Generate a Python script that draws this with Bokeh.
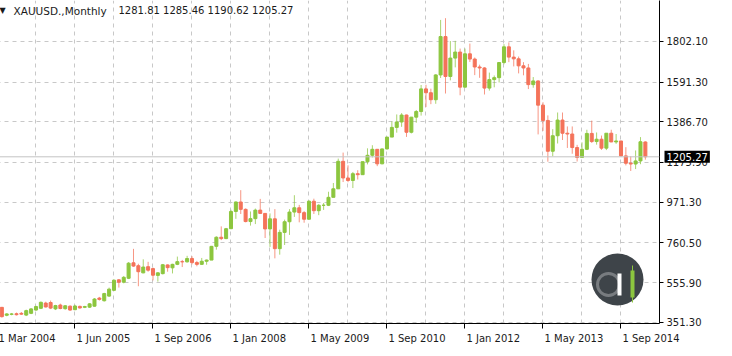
from bokeh.plotting import figure
from bokeh.models import (Range1d, FixedTicker, Label, Span, BoxAnnotation, Grid, LinearAxis,
                          ColumnDataSource, PrintfTickFormatter)
from bokeh.embed import file_html
from bokeh.resources import INLINE

# ---------------- data (monthly XAUUSD candles, bar index 0 = "1 Mar 2004") ----
opens = [395, 428, 387, 392, 395, 397, 388, 397, 414, 423, 450, 453, 420, 440, 421, 434,
         416, 433, 428, 429, 434, 476, 462, 486, 516, 570, 558, 578, 658, 643, 606, 638,
         628, 593, 602, 647,
         632, 650, 664, 663, 680, 659, 650, 666, 672, 743, 790, 783,
         834, 923, 972, 934, 871, 886, 930, 913, 833, 885, 731, 815,
         870, 920, 942, 917, 883, 976, 927, 955, 955, 996, 1040, 1182,
         1096, 1083, 1118, 1113, 1180, 1213, 1244, 1169, 1246, 1307, 1357, 1385,
         1421, 1332, 1410, 1439, 1556, 1536, 1500, 1628, 1826, 1620, 1715, 1746,
         1565, 1737, 1710, 1669, 1664, 1560, 1604, 1614, 1692, 1773, 1720, 1711,
         1675, 1664, 1578, 1597, 1472, 1393, 1234, 1314, 1395, 1327, 1323, 1253,
         1202, 1244, 1326, 1284, 1296, 1250, 1327, 1282, 1287, 1210, 1172, 1168,
         1184, 1281.81]
highs = [432, 430, 398, 399, 401, 404, 416, 424, 436, 458, 457, 463, 441, 447, 440, 438,
         441, 437, 436, 450, 476, 482, 503, 530, 572, 574, 590, 662, 730, 653, 676, 663,
         633, 610, 652, 650,
         653, 690, 673, 694, 692, 668, 683, 675, 745, 795, 846, 838,
         932, 975, 1033, 939, 923, 938, 988, 915, 913, 935, 829, 881,
         935, 1007, 957, 925, 980, 989, 961, 967, 1025, 1070, 1196, 1227,
         1161, 1127, 1136, 1180, 1249, 1265, 1245, 1248, 1307, 1388, 1424, 1431,
         1423, 1411, 1447, 1576, 1577, 1557, 1632, 1912, 1921, 1803, 1804, 1764,
         1764, 1790, 1718, 1681, 1668, 1640, 1625, 1692, 1787, 1796, 1755, 1723,
         1694, 1685, 1617, 1600, 1487, 1419, 1348, 1434, 1434, 1362, 1362, 1267,
         1280, 1345, 1392, 1331, 1315, 1327, 1345, 1323, 1287, 1255, 1208, 1238,
         1307, 1285.46]
lows = [390, 375, 382, 387, 386, 389, 383, 393, 410, 419, 427, 419, 414, 418, 416, 410,
        413, 421, 424, 425, 431, 463, 458, 482, 512, 530, 552, 574, 637, 537, 604, 612,
        567, 561, 598, 612,
        603, 646, 636, 659, 650, 640, 647, 648, 672, 726, 775, 780,
        833, 885, 910, 867, 850, 858, 911, 786, 740, 681, 700, 750,
        802, 895, 867, 865, 882, 910, 904, 931, 951, 1002, 1040, 1075,
        1074, 1044, 1088, 1114, 1166, 1202, 1157, 1167, 1243, 1310, 1330, 1360,
        1308, 1326, 1381, 1418, 1462, 1477, 1479, 1612, 1532, 1600, 1667, 1523,
        1563, 1695, 1627, 1613, 1527, 1547, 1564, 1589, 1683, 1694, 1672, 1636,
        1626, 1555, 1562, 1321, 1339, 1180, 1208, 1274, 1292, 1251, 1221, 1181,
        1202, 1240, 1277, 1268, 1241, 1240, 1281, 1272, 1206, 1161, 1132, 1142,
        1167, 1190.62]
closes = [428, 380, 394, 394, 390, 393, 411, 420, 432, 454, 430, 424, 437, 422, 436, 414,
          435, 425, 432, 446, 471, 469, 499, 522, 568, 558, 583, 656, 641, 612, 636, 620,
          594, 606, 648, 633,
          650, 664, 663, 680, 659, 650, 666, 672, 743, 790, 783, 834,
          923, 972, 934, 871, 886, 930, 913, 833, 885, 731, 815, 870,
          920, 942, 917, 883, 976, 927, 955, 955, 996, 1040, 1182, 1096,
          1083, 1118, 1113, 1180, 1213, 1244, 1169, 1246, 1307, 1357, 1385, 1421,
          1332, 1410, 1439, 1556, 1536, 1500, 1628, 1826, 1620, 1715, 1746, 1565,
          1737, 1710, 1669, 1664, 1560, 1604, 1614, 1692, 1773, 1720, 1711, 1675,
          1664, 1578, 1597, 1472, 1393, 1234, 1314, 1395, 1327, 1323, 1253, 1202,
          1244, 1326, 1284, 1296, 1250, 1327, 1282, 1287, 1210, 1172, 1168, 1184,
          1283, 1205.27]

x_tick_bars = [0, 16, 32, 48, 64, 80, 96, 112, 128]
x_tick_labels = ["1 Mar 2004", "1 Jun 2005", "1 Sep 2006", "1 Jan 2008", "1 May 2009",
                 "1 Sep 2010", "1 Jan 2012", "1 May 2013", "1 Sep 2014"]
x_grid_bars = list(range(0, 137, 8))
y_ticks = [351.30, 555.90, 760.50, 971.30, 1175.90, 1386.70, 1591.30, 1802.10]

symbol = "XAUUSD.,Monthly"
last_ohlc = "1281.81 1285.46 1190.62 1205.27"
last_price = 1205.27

# ---------------- styling / layout ----------------
BULL = "#8cc63f"
BEAR = "#f4735a"
GRID = "#c8c8c8"
FONT = "DejaVu Sans"
TXT = "#1a1a1a"
X0, X1 = -0.1, 135.9          # visible bar range
FRAME_W, FRAME_H = 663, 323
TOP_PAD = 30                  # spare top panel (holds the price box label)
PX_PER_BAR = FRAME_W / (X1 - X0)

# DejaVu Sans advance widths at 10px (for left-aligning the MT4 style time labels)
CW = {"0": 6.36, "1": 6.36, "2": 6.36, "3": 6.36, "4": 6.36, "5": 6.36, "6": 6.36,
      "7": 6.36, "8": 6.36, "9": 6.36, " ": 3.18, "M": 8.63, "a": 6.13, "r": 4.11,
      "J": 2.95, "u": 6.34, "n": 6.34, "S": 6.35, "e": 6.15, "p": 6.35, "y": 5.92}

def text_w(s):
    return sum(CW.get(ch, 6.2) for ch in s)

bars = list(range(len(opens)))
src = ColumnDataSource(dict(
    x=bars, open=opens, high=highs, low=lows, close=closes,
    top=[max(o, c) for o, c in zip(opens, closes)],
    bottom=[min(o, c) for o, c in zip(opens, closes)],
    color=[BULL if c >= o else BEAR for o, c in zip(opens, closes)],
))

p = figure(width=FRAME_W + 61, height=FRAME_H + 25 + TOP_PAD, output_backend="svg",
           toolbar_location=None,
           x_range=Range1d(X0, X1), y_range=Range1d(344.6, 2012.3),
           x_axis_location=None, y_axis_location=None,
           min_border_left=0, min_border_top=TOP_PAD,
           min_border_right=61, min_border_bottom=25)
p.margin = (-TOP_PAD, 0, 0, -4)
p.outline_line_color = None
p.background_fill_color = "white"
p.border_fill_color = "white"
p.center = [r for r in p.center if not isinstance(r, Grid)]

# grid
for dim, ticks in ((0, x_grid_bars), (1, y_ticks)):
    p.add_layout(Grid(dimension=dim, ticker=FixedTicker(ticks=ticks),
                      grid_line_color=GRID, grid_line_dash="4 4", grid_line_width=1))

# bottom: tick marks axis (no labels), then a label-only axis with labels starting at each tick
xa = LinearAxis(ticker=FixedTicker(ticks=x_tick_bars),
                major_label_overrides={b: "" for b in x_tick_bars},
                major_label_text_color=None, major_label_text_font_size="1px",
                major_label_standoff=0,
                minor_tick_line_color=None, major_tick_in=0, major_tick_out=5,
                axis_line_color="#000000", major_tick_line_color="#000000")
p.add_layout(xa, "below")
centers = [round(b + (text_w(t) / 2 + 1.5) / PX_PER_BAR, 3) for b, t in zip(x_tick_bars, x_tick_labels)]
xl = LinearAxis(ticker=FixedTicker(ticks=centers),
                major_label_overrides={c: t for c, t in zip(centers, x_tick_labels)},
                axis_line_color=None, major_tick_line_color=None, minor_tick_line_color=None,
                major_tick_in=0, major_tick_out=0, major_label_standoff=4,
                major_label_text_font=FONT, major_label_text_font_size="10px",
                major_label_text_color=TXT)
p.add_layout(xl, "below")

# right: price axis
ya = LinearAxis(ticker=FixedTicker(ticks=y_ticks),
                formatter=PrintfTickFormatter(format="%.2f"),
                minor_tick_line_color=None, major_tick_in=0, major_tick_out=4,
                major_label_standoff=3, axis_line_color="#000000",
                major_tick_line_color="#000000",
                major_label_text_font=FONT, major_label_text_font_size="10px",
                major_label_text_color=TXT)
p.add_layout(ya, "right")

# current price box (lives in the spare top panel so it is not clipped to the frame)
p.add_layout(Label(x=FRAME_W + 5, y=last_price, x_units="screen", y_units="data", text="1205.27",
                   text_font=FONT, text_font_size="10px", text_color="white",
                   text_baseline="middle", background_fill_color="black",
                   padding=2), "above")

# current price line
p.add_layout(Span(location=last_price, dimension="width", line_color="#c4c4c4", line_width=1))

# candles
p.segment(x0="x", y0="high", x1="x", y1="low", color="color", line_alpha=0.75, line_width=1, source=src)
p.vbar(x="x", width=0.62, top="top", bottom="bottom", fill_color="color",
       line_color="color", line_width=1, source=src)

# header text
p.add_layout(Label(x=3, y=FRAME_H - 10, x_units="screen", y_units="screen", text="\u25bc",
                   text_font=FONT, text_font_size="8px", text_color=TXT, text_baseline="middle"))
p.add_layout(Label(x=17, y=FRAME_H - 10, x_units="screen", y_units="screen", text=symbol,
                   text_font=FONT, text_font_size="10.5px", text_color=TXT, text_baseline="middle"))
p.add_layout(Label(x=122, y=FRAME_H - 10, x_units="screen", y_units="screen", text=last_ohlc,
                   text_font=FONT, text_font_size="10px", text_color=TXT, text_baseline="middle"))

# logo
def box(l, r, b, t, **kw):
    return BoxAnnotation(left=l, right=r, bottom=b, top=t,
                         left_units="screen", right_units="screen",
                         top_units="screen", bottom_units="screen", **kw)

p.add_layout(box(595, 647, 18, 70, fill_color="#3e4449", fill_alpha=1, line_color=None,
                 border_radius=26))
p.add_layout(box(601, 623, 28, 50, fill_alpha=0, line_color="white", line_width=3,
                 border_radius=11))
p.add_layout(box(621, 625, 28, 50, fill_color="white", fill_alpha=1, line_color=None))
p.add_layout(box(635.5, 636.5, 21, 58, fill_color=BULL, fill_alpha=1, line_color=None))
p.add_layout(box(634, 638, 26, 53, fill_color=BULL, fill_alpha=1, line_color=None))

open("out.html", "w").write(file_html(p, INLINE))
